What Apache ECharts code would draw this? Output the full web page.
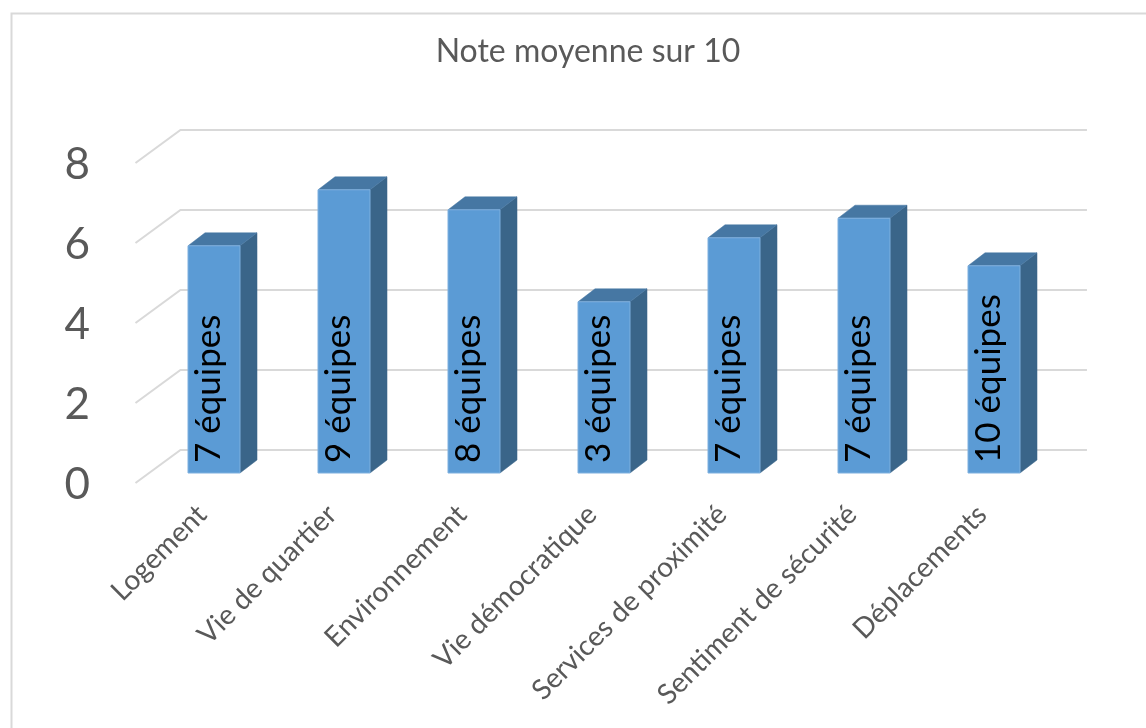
<!DOCTYPE html>
<html>
<head>
<meta charset="utf-8">
<script src="https://cdn.jsdelivr.net/npm/echarts@6/dist/echarts.min.js"></script>
<style>
html,body{margin:0;padding:0;background:#fff;}
#chart{width:1146px;height:728px;}
</style>
</head>
<body>
<div id="chart"></div>
<script>
var titleText = 'Note moyenne sur 10';
var categories = ['Logement', 'Vie de quartier', 'Environnement', 'Vie démocratique', 'Services de proximité', 'Sentiment de sécurité', 'Déplacements'];
var values = [5.68, 7.08, 6.58, 4.28, 5.88, 6.37, 5.18];
var teams = [7, 9, 8, 3, 7, 7, 10];
var yTicks = [0, 2, 4, 6, 8];

var FONT = 'Lato';
var chart = echarts.init(document.getElementById('chart'), null, {renderer: 'canvas'});

function renderWall(params, api) {
  var t = api.value(1);
  var p = api.coord([0, t]);
  var cs = params.coordSys;
  var band = api.size([1, 0])[0];
  var fx = cs.x - band * 0.104, fy = p[1] + band * 0.077;
  var bx = cs.x + band * 0.242, by = p[1] - band * 0.177;
  var ex = cs.x + cs.width + band * 0.215;
  return {
    type: 'group',
    children: [
      {type: 'polyline', shape: {points: [[fx, fy], [bx, by], [ex, by]]},
       style: {stroke: '#d9d9d9', lineWidth: 2, fill: null}},
      {type: 'text', x: cs.x - 59, y: p[1] + 12,
       style: {text: String(t), fill: '#595959', font: '44px ' + FONT, align: 'right', verticalAlign: 'middle'}}
    ]
  };
}

function renderBar(params, api) {
  var idx = api.value(0), v = api.value(1);
  var base = api.coord([idx, 0]);
  var top = api.coord([idx, v]);
  var band = api.size([1, 0])[0];
  var w = band * 0.4, dx = band * 0.131, dy = -band * 0.1;
  var x0 = base[0] - w / 2, x1 = base[0] + w / 2;
  var yb = base[1], yt = top[1];
  return {
    type: 'group',
    children: [
      {type: 'polygon', shape: {points: [[x1, yt], [x1 + dx, yt + dy], [x1 + dx, yb + dy], [x1, yb]]},
       style: {fill: '#3a6589', stroke: '#3a6589', lineWidth: 0.5}},
      {type: 'polygon', shape: {points: [[x0, yt], [x1, yt], [x1 + dx, yt + dy], [x0 + dx, yt + dy]]},
       style: {fill: '#4677a3', stroke: '#4677a3', lineWidth: 0.5}},
      {type: 'rect', shape: {x: x0, y: yt, width: w, height: yb - yt},
       style: {fill: '#5b9bd5', stroke: '#7fb0df', lineWidth: 1}},
      {type: 'text', x: base[0] - 5, y: yb - 10, rotation: Math.PI / 2,
       style: {text: teams[idx] + ' équipes', fill: '#000', font: '35px ' + FONT, align: 'left', verticalAlign: 'middle'}}
    ]
  };
}

var option = {
  animation: false,
  backgroundColor: '#fff',
  title: {
    text: titleText, left: 583, top: 31, textAlign: 'center',
    textStyle: {fontFamily: FONT, fontSize: 32, fontWeight: 'normal', color: '#595959'}
  },
  graphic: [{
    type: 'rect', left: 9, top: 11, shape: {width: 1160, height: 740},
    style: {fill: null, stroke: '#d9d9d9', lineWidth: 2}, z: -1
  }],
  grid: {left: 149, right: 87, top: 153, bottom: 255, containLabel: false},
  xAxis: {
    type: 'category', data: categories,
    axisLine: {show: false}, axisTick: {show: false}, splitLine: {show: false},
    axisLabel: {rotate: 45, interval: 0, margin: 25, padding: [0, 17, 0, 0], fontFamily: FONT, fontSize: 28, color: '#595959'}
  },
  yAxis: {
    type: 'value', min: yTicks[0], max: yTicks[yTicks.length - 1], interval: 2,
    axisLine: {show: false}, axisTick: {show: false}, splitLine: {show: false},
    axisLabel: {show: false}
  },
  series: [
    {
      type: 'custom', z: 1, renderItem: renderWall,
      encode: {x: 0, y: 1},
      data: yTicks.map(function (t) { return [0, t]; }),
      silent: true
    },
    {
      type: 'custom', z: 2, renderItem: renderBar,
      encode: {x: 0, y: 1},
      data: values.map(function (v, i) { return [i, v]; })
    }
  ]
};
chart.setOption(option);
</script>
</body>
</html>
